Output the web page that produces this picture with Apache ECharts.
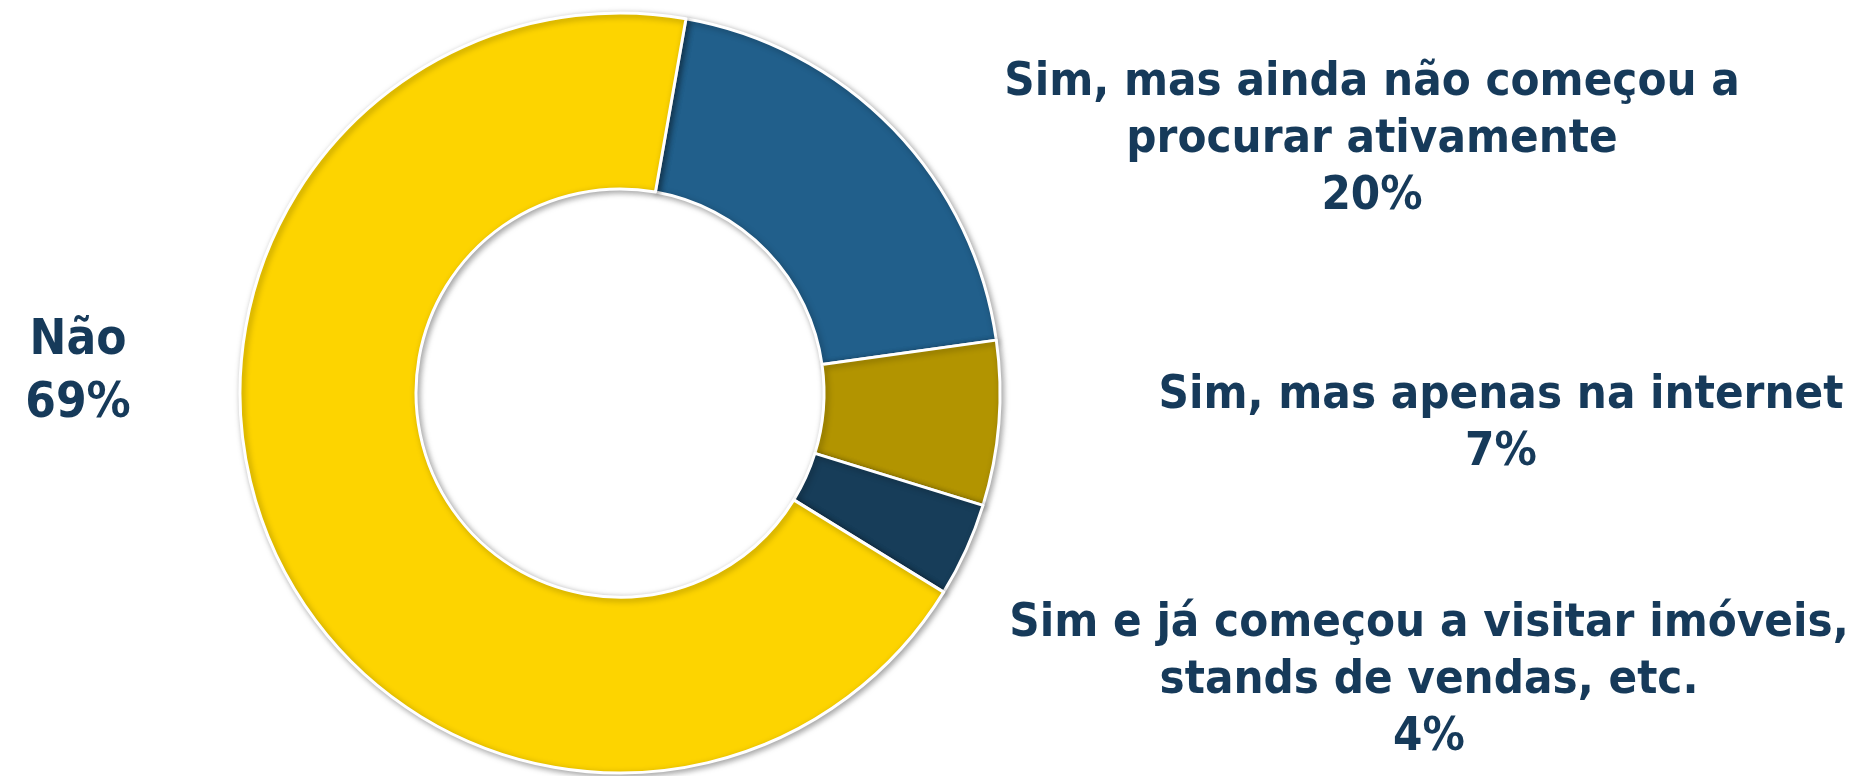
<!DOCTYPE html>
<html>
<head>
    <meta charset="utf-8">
    <title>Procura de imóvel</title>
    <script src="https://cdn.jsdelivr.net/npm/echarts@6.0.0/dist/echarts.min.js"></script>
    <style>
        html, body { margin: 0; padding: 0; background: #fff; }
        #chart { width: 1857px; height: 776px; }
    </style>
</head>
<body>
    <div id="chart"></div>

    <script>
        // data
        const categories = [
            'Sim, mas ainda não começou a\nprocurar ativamente',
            'Sim, mas apenas na internet',
            'Sim e já começou a visitar imóveis,\nstands de vendas, etc.',
            'Não'
        ];
        const values = [20, 7, 4, 69];
        const colors = ['#215F8B', '#B29400', '#173D59', '#FDD400'];

        // where each label block is centred (px)
        const labelPos = [[1372, 140], [1501, 424], [1429, 681], [78, 373]];

        const chart = echarts.init(document.getElementById('chart'));

        chart.setOption({
            animation: false,
            series: [{
                type: 'pie',
                center: [620, 393],
                radius: [204, 380],
                startAngle: 80,
                clockwise: true,
                silent: true,
                itemStyle: {
                    borderColor: '#fff',
                    borderWidth: 3,
                    shadowBlur: 6,
                    shadowOffsetX: 2,
                    shadowOffsetY: 2,
                    shadowColor: 'rgba(0,0,0,0.35)'
                },
                label: {
                    show: true,
                    position: 'outside',
                    formatter: '{b}\n{c}%',
                    color: '#163A5A',
                    fontFamily: '"DejaVu Sans Condensed", "DejaVu Sans", sans-serif',
                    fontWeight: 'bold',
                    fontSize: 47,
                    lineHeight: 57,
                    align: 'center',
                    overflow: 'none',
                    width: 900
                },
                labelLine: { show: false },
                labelLayout: function (params) {
                    const p = labelPos[params.dataIndex];
                    return { x: p[0], y: p[1], align: 'center', verticalAlign: 'middle' };
                },
                data: categories.map(function (name, i) {
                    const item = { name: name, value: values[i], itemStyle: { color: colors[i] } };
                    if (name === 'Não') item.label = { lineHeight: 63, fontSize: 49 };
                    return item;
                })
            }]
        });
    </script>
</body>
</html>
